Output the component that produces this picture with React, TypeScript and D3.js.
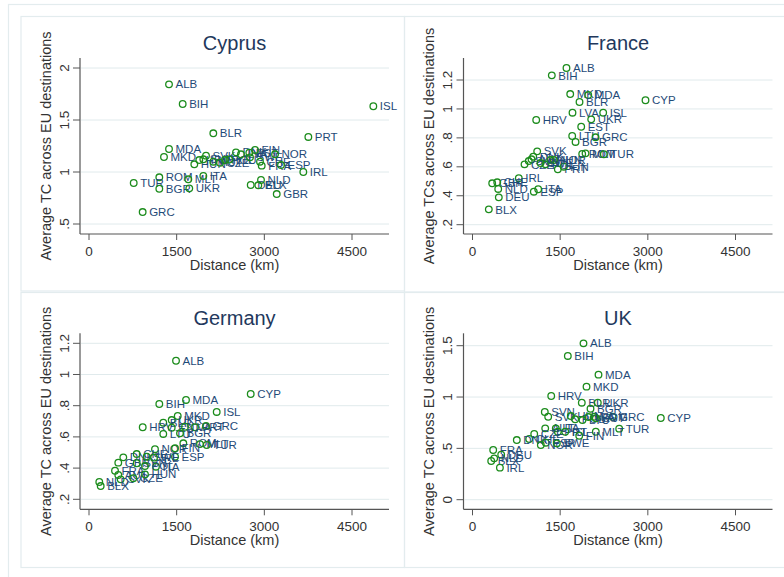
import * as d3 from 'd3';

// [country, distance km, average TC]
const cyprusPoints: [string, number, number][] = [
  ['ALB', 1369, 1.843], ['BIH', 1603, 1.654], ['ISL', 4865, 1.632], ['BLR', 2127, 1.372],
  ['PRT', 3753, 1.337], ['MDA', 1369, 1.221], ['MKD', 1283, 1.144], ['HUN', 1802, 1.074],
  ['HRV', 1887, 1.115], ['SVN', 1956, 1.122], ['SVK', 2002, 1.157], ['AUT', 2127, 1.099],
  ['CZE', 2242, 1.089], ['POL', 2327, 1.115], ['LTU', 2400, 1.12], ['DNK', 2515, 1.189],
  ['LVA', 2600, 1.17], ['EST', 2743, 1.186], ['SWE', 2755, 1.141], ['FIN', 2841, 1.212],
  ['CHE', 2926, 1.099], ['FRA', 2955, 1.061], ['NOR', 3183, 1.17], ['ESP', 3285, 1.067],
  ['IRL', 3667, 1.0], ['ROM', 1203, 0.949], ['MLT', 1699, 0.93], ['ITA', 1956, 0.962],
  ['TUR', 765, 0.894], ['BGR', 1203, 0.839], ['UKR', 1716, 0.843], ['DEU', 2767, 0.875],
  ['BLX', 2897, 0.872], ['NLD', 2943, 0.923], ['GBR', 3212, 0.788], ['GRC', 918, 0.615],
];

const francePoints: [string, number, number][] = [
  ['ALB', 1608, 1.283], ['BIH', 1357, 1.232], ['MKD', 1672, 1.103], ['MDA', 1980, 1.096],
  ['BLR', 1831, 1.048], ['CYP', 2960, 1.06], ['LVA', 1711, 0.974], ['ISL', 2236, 0.974],
  ['HRV', 1090, 0.924], ['UKR', 2031, 0.928], ['EST', 1860, 0.877], ['LTU', 1706, 0.813],
  ['GRC', 2105, 0.804], ['BGR', 1763, 0.772], ['SVK', 1107, 0.707], ['ROM', 1877, 0.689],
  ['MLT', 1934, 0.693], ['TUR', 2247, 0.687], ['DNK', 1039, 0.67], ['AUT', 1010, 0.652],
  ['SVN', 963, 0.64], ['CZE', 890, 0.617], ['POL', 1249, 0.617], ['HUN', 1335, 0.647],
  ['NOR', 1391, 0.647], ['PRT', 1460, 0.583], ['FIN', 1562, 0.601], ['SWE', 1164, 0.626],
  ['IRL', 792, 0.521], ['GBR', 337, 0.486], ['CHE', 423, 0.493], ['NLD', 440, 0.447],
  ['DEU', 450, 0.389], ['ESP', 1049, 0.428], ['ITA', 1124, 0.445], ['BLX', 279, 0.306],
];

const germanyPoints: [string, number, number][] = [
  ['ALB', 1489, 1.088], ['CYP', 2767, 0.875], ['BIH', 1203, 0.811], ['MDA', 1660, 0.837],
  ['ISL', 2185, 0.76], ['MKD', 1518, 0.734], ['UKR', 1415, 0.708], ['BLR', 1271, 0.691],
  ['HRV', 919, 0.662], ['EST', 1415, 0.659], ['LVA', 1643, 0.665], ['PRT', 1814, 0.662],
  ['GRC', 2002, 0.67], ['LTU', 1271, 0.619], ['BGR', 1557, 0.623], ['ROM', 1614, 0.559],
  ['MLT', 1899, 0.554], ['TUR', 2014, 0.548], ['NOR', 1129, 0.521], ['FIN', 1472, 0.527],
  ['ESP', 1472, 0.473], ['DNK', 587, 0.469], ['GBR', 501, 0.435], ['CHE', 816, 0.49],
  ['SVN', 816, 0.431], ['SWE', 987, 0.473], ['IRL', 1112, 0.467], ['ITA', 1146, 0.409],
  ['POL', 958, 0.413], ['FRA', 445, 0.383], ['AUT', 501, 0.356], ['SVK', 542, 0.328],
  ['CZE', 758, 0.335], ['HUN', 958, 0.36], ['NLD', 176, 0.311], ['BLX', 200, 0.285],
];

const ukPoints: [string, number, number][] = [
  ['ALB', 1899, 1.523], ['BIH', 1631, 1.4], ['MDA', 2156, 1.218], ['MKD', 1951, 1.101],
  ['HRV', 1347, 1.01], ['BLR', 1870, 0.945], ['UKR', 2144, 0.945], ['BGR', 2019, 0.886],
  ['SVN', 1237, 0.854], ['CYP', 3222, 0.796], ['GRC', 2396, 0.808], ['SVK', 1295, 0.808],
  ['HUN', 1682, 0.815], ['POL', 1757, 0.783], ['LTU', 1882, 0.776], ['ROM', 2082, 0.808],
  ['EST', 2110, 0.793], ['LVA', 1985, 0.805], ['TUR', 2510, 0.692], ['MLT', 2110, 0.662],
  ['AUT', 1244, 0.695], ['ITA', 1425, 0.695], ['PRT', 1460, 0.662], ['ISL', 1586, 0.662],
  ['FIN', 1826, 0.623], ['CZE', 1056, 0.64], ['CHE', 970, 0.591], ['DNK', 758, 0.581],
  ['ESP', 1254, 0.555], ['NOR', 1169, 0.533], ['SWE', 1443, 0.549], ['FRA', 354, 0.484],
  ['DEU', 491, 0.438], ['NLD', 371, 0.403], ['BLX', 320, 0.377], ['IRL', 469, 0.312],
];

const xTicks = [0, 1500, 3000, 4500];
const cyprusTicks = [0.5, 1, 1.5, 2];
const franceTicks = [0.2, 0.4, 0.6, 0.8, 1, 1.2];
const germanyTicks = [0.2, 0.4, 0.6, 0.8, 1, 1.2];
const ukTicks = [0, 0.5, 1, 1.5];

const W = 784, H = 577;
const FONT = "'Liberation Sans', Arial, Helvetica, sans-serif";
const GREEN = '#1c8c1c';
const NAVY = '#1f4b78';
const FRAME = '#e3ecee';
const GRID = '#e0eaec';
const AXIS = '#555';
const INK = '#333';

const fmt = (v: number) => String(v).replace(/^0\./, '.');

interface PanelProps {
  title: string;
  yTitle: string;
  points: [string, number, number][];
  yTicks: number[];
  yDomain: [number, number];
  yRange: [number, number];
  ox: number;
  oy: number;
}

function Panel({ title, yTitle, points, yTicks, yDomain, yRange, ox, oy }: PanelProps) {
  // plot region, relative to panel origin
  const left = 80, right = 389, top = 58, bottom = 234;
  const x = d3.scaleLinear().domain([0, 4500]).range([89, 352]);
  const y = d3.scaleLinear().domain(yDomain).range(yRange);
  const cx = (left + right) / 2;

  return (
    <g transform={`translate(${ox},${oy})`} fontFamily={FONT}>
      <text x={cx} y={50} textAnchor="middle" fontSize={20} fill="#22385c">{title}</text>

      {yTicks.map(t => (
        <line key={'g' + t} x1={left + 1} x2={right} y1={y(t)} y2={y(t)} stroke={GRID} strokeWidth={1} />
      ))}

      <line x1={left} x2={left} y1={top} y2={bottom} stroke={AXIS} strokeWidth={1.2} />
      <line x1={left} x2={right} y1={bottom} y2={bottom} stroke={AXIS} strokeWidth={1.2} />

      {yTicks.map(t => (
        <g key={'y' + t}>
          <line x1={left - 7} x2={left} y1={y(t)} y2={y(t)} stroke={AXIS} strokeWidth={1} />
          <text transform={`translate(68.5,${y(t)}) rotate(-90)`} textAnchor="middle" fontSize={13.5} fill={INK}>
            {fmt(t)}
          </text>
        </g>
      ))}

      {xTicks.map(t => (
        <g key={'x' + t}>
          <line x1={x(t)} x2={x(t)} y1={bottom} y2={bottom + 6} stroke={AXIS} strokeWidth={1} />
          <text x={x(t)} y={255.5} textAnchor="middle" fontSize={13.5} fill={INK}>{t}</text>
        </g>
      ))}

      <text x={cx} y={269.5} textAnchor="middle" fontSize={14.5} fill={INK}>Distance (km)</text>
      <text transform={`translate(50.5,${(top + bottom) / 2}) rotate(-90)`} textAnchor="middle" fontSize={14.5} fill={INK}>
        {yTitle}
      </text>

      {points.map(([name, km, v]) => (
        <g key={name}>
          <circle cx={x(km)} cy={y(v)} r={3.3} fill="none" stroke={GREEN} strokeWidth={1.3} />
          <text x={x(km) + 6.5} y={y(v)} dy="0.36em" fontSize={11.5} fill={NAVY}>{name}</text>
        </g>
      ))}
    </g>
  );
}

export default function App() {
  return (
    <svg width={W} height={H} style={{ position: 'absolute', left: 0, top: 0, background: '#fff' }}>
      <rect x={0} y={0} width={W} height={H} fill="#fff" />
      {/* outer graph frame */}
      <rect x={8.5} y={4.5} width={W + 20} height={H + 20} fill="none" stroke={FRAME} strokeWidth={1.2} />
      {/* sub-graph frames */}
      <rect x={21} y={16.5} width={383.5} height={274.5} fill="none" stroke={FRAME} strokeWidth={1.2} />
      <rect x={404.5} y={16.5} width={400} height={275.5} fill="none" stroke={FRAME} strokeWidth={1.2} />
      <rect x={21} y={292.5} width={383.5} height={275} fill="none" stroke={FRAME} strokeWidth={1.2} />
      <rect x={404.5} y={292.5} width={400} height={275} fill="none" stroke={FRAME} strokeWidth={1.2} />

      <Panel title="Cyprus" yTitle="Average TC across EU destinations" points={cyprusPoints}
        yTicks={cyprusTicks} yDomain={[0.5, 2]} yRange={[224, 68]} ox={0} oy={0} />
      <Panel title="France" yTitle="Average TCs across EU destinations" points={francePoints}
        yTicks={franceTicks} yDomain={[0.2, 1.2]} yRange={[224.7, 80]} ox={383.5} oy={0} />
      <Panel title="Germany" yTitle="Average TC across EU destinations" points={germanyPoints}
        yTicks={germanyTicks} yDomain={[0.2, 1.2]} yRange={[224, 68]} ox={0} oy={275.3} />
      <Panel title="UK" yTitle="Average TC across EU destinations" points={ukPoints}
        yTicks={ukTicks} yDomain={[0, 1.5]} yRange={[224.4, 70.4]} ox={383.5} oy={275.3} />
    </svg>
  );
}
